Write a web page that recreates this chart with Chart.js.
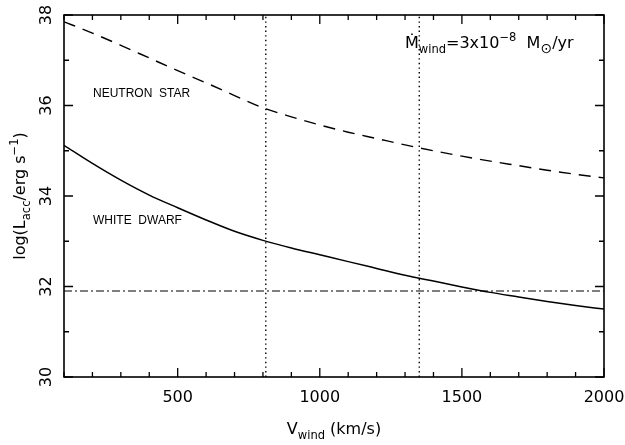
<!DOCTYPE html>
<html>
<head>
<meta charset="utf-8">
<script src="https://cdn.jsdelivr.net/npm/chart.js@4"></script>
<style>
  html, body { margin: 0; padding: 0; background: #fff; }
  #grafico { display: block; }
</style>
</head>
<body>
<canvas id="grafico" width="625" height="445"></canvas>
<script>
// Velocidade do vento (km/s)
const velocidades = [100, 200, 300, 400, 500, 600, 700, 800, 900, 1000,
    1100, 1200, 1300, 1400, 1500, 1600, 1700, 1800, 1900, 2000];

// log(L_acc)
const lumEstrelaNeutrons = [37.85, 37.60, 37.33, 37.05, 36.77, 36.50, 36.22, 35.95, 35.75, 35.57,
    35.41, 35.27, 35.13, 35.00, 34.88, 34.77, 34.67, 34.57, 34.48, 34.40];
const lumAnaBranca = [35.12, 34.72, 34.35, 34.02, 33.74, 33.47, 33.22, 33.02, 32.85, 32.70,
    32.55, 32.40, 32.25, 32.12, 31.99, 31.87, 31.77, 31.67, 31.58, 31.50];

// Nível horizontal (traço-ponto) e velocidades marcadas (pontilhado)
const nivelHorizontal = 31.9;
const velocidadesMarcadas = [810, 1350];

const xMin = 100, xMax = 2000;
const yMin = 30, yMax = 38;
const ticksXMaiores = [500, 1000, 1500, 2000];
const ticksYMaiores = [30, 32, 34, 36, 38];

const pontos = (xs, ys) => xs.map((x, i) => ({ x: x, y: ys[i] }));

const fonte = '"DejaVu Sans", sans-serif';

// Escreve texto com subscritos e sobrescritos
function medirPartes(ctx, partes, tamanho) {
    let largura = 0;
    partes.forEach(p => {
        const t = p.tam || ((p.sub || p.sup) ? tamanho * 0.72 : tamanho);
        ctx.font = t + 'px ' + fonte;
        largura += ctx.measureText(p.t).width;
    });
    return largura;
}

function desenharPartes(ctx, partes, x, y, tamanho, alinhar) {
    let largura = medirPartes(ctx, partes, tamanho);
    let cx = alinhar === 'center' ? x - largura / 2 : x;
    ctx.textAlign = 'left';
    ctx.textBaseline = 'alphabetic';
    partes.forEach(p => {
        const t = p.tam || ((p.sub || p.sup) ? tamanho * 0.72 : tamanho);
        ctx.font = t + 'px ' + fonte;
        let dy = 0;
        if (p.sub) dy = tamanho * 0.32;
        if (p.sup) dy = -tamanho * 0.45;
        ctx.fillText(p.t, cx, y + dy);
        cx += ctx.measureText(p.t).width;
    });
}

const moldura = {
    id: 'moldura',
    afterDraw(chart) {
        const ctx = chart.ctx;
        const area = chart.chartArea;
        const sx = chart.scales.x;
        const sy = chart.scales.y;
        ctx.save();
        ctx.strokeStyle = '#000';
        ctx.fillStyle = '#000';
        ctx.lineWidth = 1.6;
        ctx.strokeRect(area.left, area.top, area.right - area.left, area.bottom - area.top);

        // Ticks em todos os lados, voltados para dentro
        ctx.lineWidth = 1.3;
        ctx.beginPath();
        for (let v = xMin; v <= xMax; v += 100) {
            const px = sx.getPixelForValue(v);
            const len = ticksXMaiores.includes(v) ? 9 : 5;
            ctx.moveTo(px, area.bottom); ctx.lineTo(px, area.bottom - len);
            ctx.moveTo(px, area.top); ctx.lineTo(px, area.top + len);
        }
        for (let v = yMin; v <= yMax; v += 1) {
            const py = sy.getPixelForValue(v);
            const len = ticksYMaiores.includes(v) ? 9 : 5;
            ctx.moveTo(area.left, py); ctx.lineTo(area.left + len, py);
            ctx.moveTo(area.right, py); ctx.lineTo(area.right - len, py);
        }
        ctx.stroke();

        // Rótulos do eixo x
        ctx.font = '16px ' + fonte;
        ctx.textAlign = 'center';
        ctx.textBaseline = 'middle';
        ticksXMaiores.forEach(v => {
            ctx.fillText(String(v), sx.getPixelForValue(v), 398);
        });

        // Rótulos do eixo y (girados)
        ticksYMaiores.forEach(v => {
            ctx.save();
            ctx.translate(47, sy.getPixelForValue(v));
            ctx.rotate(-Math.PI / 2);
            ctx.font = '16px ' + fonte;
            ctx.textAlign = 'center';
            ctx.textBaseline = 'middle';
            ctx.fillText(String(v), 0, 0);
            ctx.restore();
        });

        // Títulos dos eixos
        desenharPartes(ctx, [{ t: 'V' }, { t: 'wind', sub: true }, { t: ' (km/s)' }],
            (area.left + area.right) / 2, 434, 16, 'center');

        ctx.save();
        ctx.translate(25, (area.top + area.bottom) / 2);
        ctx.rotate(-Math.PI / 2);
        desenharPartes(ctx, [{ t: 'log(L' }, { t: 'acc', sub: true }, { t: '/erg s' },
            { t: '−1', sup: true }, { t: ')' }], 0, 0, 16, 'center');
        ctx.restore();

        // Anotação
        desenharPartes(ctx, [{ t: 'Ṁ' }, { t: 'wind', sub: true }, { t: '=3x10' },
            { t: '−8', sup: true }, { t: '  M' }, { t: '⊙', sub: true, tam: 14 }, { t: '/yr' }],
            405, 48, 16, 'left');

        // Rótulos das curvas
        ctx.font = '12px "Liberation Sans", sans-serif';
        ctx.textAlign = 'left';
        ctx.textBaseline = 'alphabetic';
        ctx.fillText('NEUTRON  STAR', 93, 97);
        ctx.fillText('WHITE  DWARF', 93, 224);
        ctx.restore();
    }
};

const dados = {
    datasets: [
        {
            label: 'Neutron star',
            data: pontos(velocidades, lumEstrelaNeutrons),
            borderColor: '#000',
            borderWidth: 1.4,
            borderDash: [12, 8],
            cubicInterpolationMode: 'monotone'
        },
        {
            label: 'White dwarf',
            data: pontos(velocidades, lumAnaBranca),
            borderColor: '#000',
            borderWidth: 1.5,
            cubicInterpolationMode: 'monotone'
        },
        {
            label: 'Nivel',
            data: [{ x: xMin, y: nivelHorizontal }, { x: xMax, y: nivelHorizontal }],
            borderColor: '#555',
            borderWidth: 1.6,
            borderDash: [8, 3, 2, 3]
        },
        ...velocidadesMarcadas.map(v => ({
            label: 'v=' + v,
            data: [{ x: v, y: yMin }, { x: v, y: yMax }],
            borderColor: '#000',
            borderWidth: 1.4,
            borderDash: [1.4, 3.2]
        }))
    ]
};

const config = {
    type: 'scatter',
    data: dados,
    options: {
        responsive: false,
        animation: false,
        showLine: true,
        elements: { point: { radius: 0 } },
        layout: { padding: { left: 64, right: 21, top: 15, bottom: 68 } },
        plugins: { legend: { display: false }, tooltip: { enabled: false } },
        scales: {
            x: { type: 'linear', display: false, min: xMin, max: xMax },
            y: { type: 'linear', display: false, min: yMin, max: yMax }
        }
    },
    plugins: [moldura]
};

const ctx = document.getElementById('grafico').getContext('2d');
const grafico = new Chart(ctx, config);
</script>
</body>
</html>
